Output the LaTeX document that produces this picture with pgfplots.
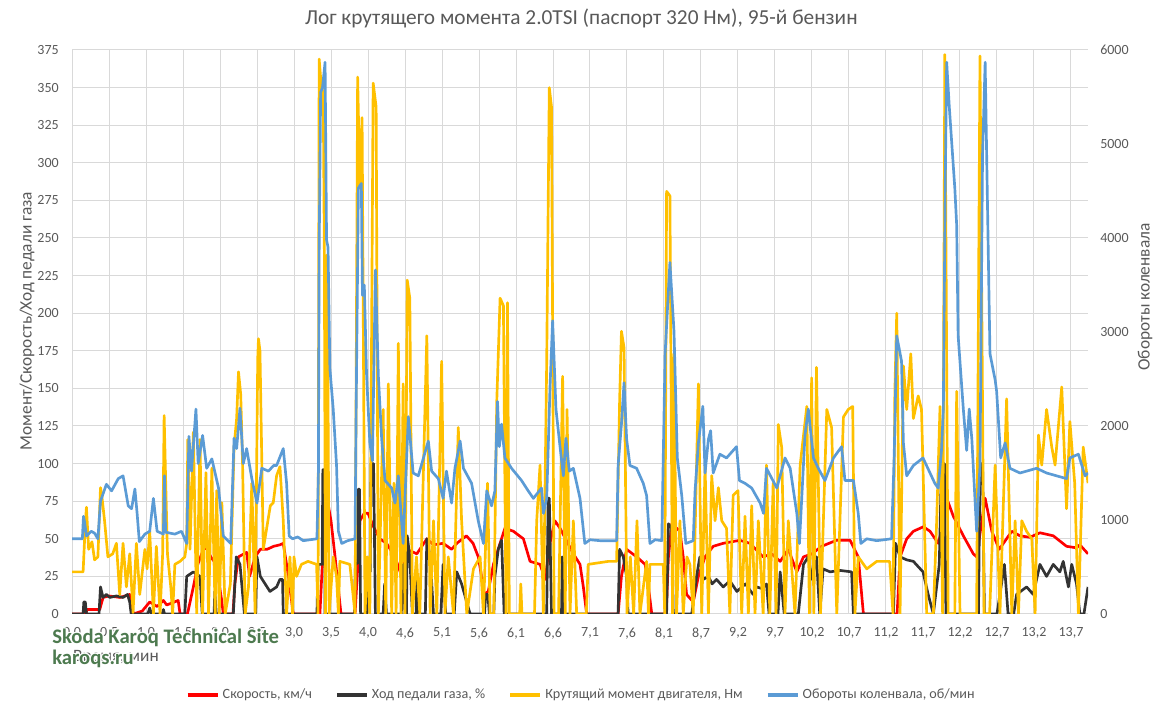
\documentclass[border=0pt]{standalone}
\usepackage{fontspec}
\setmainfont{Carlito}
\usepackage{pgfplots}
\pgfplotsset{compat=1.18}
\definecolor{txt}{HTML}{595959}
\definecolor{grd}{HTML}{D9D9D9}
\definecolor{cred}{HTML}{FF0000}
\definecolor{cblk}{HTML}{333333}
\definecolor{cyel}{HTML}{FFC000}
\definecolor{cblu}{HTML}{5B9BD5}
\definecolor{wm}{HTML}{4D7A4F}
\pgfplotsset{
  /pgf/number format/assume math mode=true,
  base/.style={
    at={(54pt,72pt)}, anchor=south west,
    width=762pt, height=423pt, scale only axis,
    xmin=0, xmax=27.46,
    major tick length=0pt,
    tick label style={font=\fontsize{10.5}{12}\selectfont, text=txt},
    axis line style={draw=none},
  },
  ser/.style={line width=2pt, line join=round, mark=none},
}
\newcommand\halo[3]{% pos, font, text
  \foreach \dx/\dy in {-1/0,1/0,0/-1,0/1,-0.7/-0.7,0.7/0.7,-0.7/0.7,0.7/-0.7}{
    \node[anchor=west, inner sep=0pt, text=white, font=#2] at ($(#1)+(\dx pt,\dy pt)$) {#3};}
  \node[anchor=west, inner sep=0pt, text=wm, font=#2] at (#1) {#3};}
\usetikzlibrary{calc}
\begin{document}
\begin{tikzpicture}
\path[use as bounding box] (0,0) rectangle (874.5pt,532.5pt);
\begin{axis}[base,
  ymin=0, ymax=375, ytick={0,25,...,375},
  xtick={0,...,27},
  xticklabels={{0,0},{0,5},{1,0},{1,5},{2,0},{2,5},{3,0},{3,5},{4,0},{4,6},{5,1},{5,6},{6,1},{6,6},{7,1},{7,6},{8,1},{8,7},{9,2},{9,7},{10,2},{10,7},{11,2},{11,7},{12,2},{12,7},{13,2},{13,7}},
  xmajorgrids, ymajorgrids,
  grid style={grd, line width=0.75pt},
  yticklabel style={anchor=east, inner sep=0pt, xshift=-9.75pt},
  xticklabel style={anchor=north, inner sep=0pt, yshift=-10pt},
]
% speed
\addplot[ser, cred] coordinates {
(0,0) (0.38,0) (0.40,3) (0.75,3) (0.84,11) (1.0,12) (1.3,11) (1.56,13) (1.66,0) (1.9,2) (2.1,8) (2.3,5) (2.47,9) (2.56,6) (2.87,9) (2.92,0) (3.12,0) (3.28,18) (3.4,33) (3.55,43) (3.65,44) (3.75,38) (3.9,33) (4.04,10) (4.09,0) (4.35,0) (4.4,20) (4.5,38) (4.72,41) (4.8,25) (4.95,38) (5.09,43) (5.27,43) (5.45,45) (5.62,46) (5.71,47) (5.85,25) (5.98,0) (6.7,0) (6.78,40) (6.88,79) (7.0,62) (7.11,38) (7.27,0) (7.65,0) (7.72,30) (7.78,62) (7.9,67) (8.0,67) (8.15,58) (8.32,50) (8.5,47) (8.73,38) (8.91,25) (9.05,43) (9.32,40) (9.59,50) (9.77,46) (10.03,47) (10.26,43) (10.4,47) (10.66,52) (10.84,47) (10.98,38) (11.07,25) (11.12,13) (11.25,15) (11.39,33) (11.57,47) (11.7,57) (11.93,55) (12.2,50) (12.38,35) (12.65,33) (12.79,23) (12.9,45) (13.05,62) (13.19,57) (13.55,40) (13.73,33) (13.82,18) (13.91,0) (14.76,0) (14.85,25) (14.99,43) (15.26,38) (15.49,33) (15.58,18) (15.67,0) (16.06,0) (16.12,38) (16.21,60) (16.43,55) (16.52,38) (16.61,13) (16.79,8) (16.93,25) (17.11,38) (17.33,45) (17.6,47) (18.05,49) (18.32,47) (18.68,38) (18.91,40) (19.14,35) (19.36,43) (19.59,28) (19.77,38) (20.0,40) (20.26,45) (20.66,49) (21.03,49) (21.25,38) (21.39,0) (22.3,0) (22.38,38) (22.56,50) (22.74,55) (23.01,58) (23.19,55) (23.41,47) (23.55,60) (23.64,77) (23.82,65) (24.09,52) (24.36,40) (24.45,38) (24.68,77) (24.86,55) (25.06,43) (25.4,55) (25.62,52) (25.89,51) (26.16,54) (26.52,52) (26.88,45) (27.15,44) (27.24,46) (27.46,40)
};
% pedal
\addplot[ser, cblk] coordinates {
(0,0) (0.30,0) (0.32,8) (0.36,8) (0.39,0) (0.73,0) (0.77,18) (0.84,11) (0.93,13) (1.02,11) (1.2,12) (1.38,11) (1.5,13) (1.56,8) (1.6,0) (2.05,0) (2.1,4) (2.15,0) (2.44,0) (2.47,3) (2.5,0) (3.05,0) (3.1,25) (3.28,28) (3.46,25) (3.52,0) (3.84,0) (3.86,15) (3.9,0) (4.36,0) (4.44,38) (4.54,33) (4.66,0) (4.96,0) (5.0,38) (5.09,25) (5.22,20) (5.35,15) (5.53,18) (5.62,23) (5.69,23) (5.71,0) (6.62,0) (6.65,33) (6.76,33) (6.78,96) (6.82,96) (6.84,0) (7.63,0) (7.66,33) (7.72,34) (7.74,83) (7.77,83) (7.8,0) (7.97,0) (8.0,28) (8.06,28) (8.08,100) (8.15,100) (8.2,0) (8.41,0) (8.45,20) (8.5,0) (8.9,0) (8.95,33) (9.0,0) (9.04,0) (9.06,52) (9.13,38) (9.2,0) (9.3,0) (9.32,23) (9.37,0) (9.55,0) (9.59,50) (9.68,38) (9.77,0) (9.97,0) (10.03,33) (10.1,0) (10.33,0) (10.4,28) (10.53,20) (10.76,0) (11.15,0) (11.18,13) (11.24,13) (11.28,0) (11.4,0) (11.43,25) (11.52,43) (11.61,49) (11.68,0) (12.83,0) (12.87,77) (12.9,77) (12.96,0) (13.23,0) (13.25,38) (13.3,0) (14.76,0) (14.8,43) (14.9,38) (14.99,25) (15.03,0) (16.07,0) (16.12,60) (16.21,57) (16.25,0) (16.75,0) (16.88,25) (16.97,38) (17.06,23) (17.2,25) (17.3,20) (17.42,23) (17.6,18) (17.78,22) (17.97,15) (18.2,20) (18.41,13) (18.5,18) (18.64,17) (18.77,20) (18.84,0) (19.08,0) (19.14,28) (19.25,0) (19.63,0) (19.77,33) (19.9,38) (20.0,23) (20.12,38) (20.21,0) (20.3,30) (20.49,28) (20.75,29) (21.07,28) (21.12,0) (22.2,0) (22.26,47) (22.38,38) (22.56,36) (22.74,35) (23.0,28) (23.14,13) (23.28,0) (23.44,33) (23.5,100) (23.58,100) (23.62,0) (24.5,0) (24.54,100) (24.61,100) (24.66,0) (25.0,0) (25.2,33) (25.3,0) (25.45,0) (25.53,13) (25.8,18) (25.98,13) (26.16,33) (26.34,25) (26.52,33) (26.7,28) (26.79,35) (26.93,18) (27.02,33) (27.15,20) (27.24,0) (27.35,0) (27.46,18)
};
% torque
\addplot[ser, cyel] coordinates {
(0,28) (0.3,28) (0.36,60) (0.39,71) (0.45,43) (0.54,48) (0.61,36) (0.7,38) (0.77,84) (0.8,80) (0.88,62) (0.97,38) (1.1,40) (1.2,47) (1.29,13) (1.38,47) (1.47,18) (1.56,40) (1.65,1) (1.74,47) (1.83,13) (1.97,43) (2.03,30) (2.1,55) (2.2,0) (2.28,45) (2.38,0) (2.45,40) (2.49,132) (2.53,90) (2.58,40) (2.67,18) (2.72,0) (2.78,33) (2.92,35) (3.05,38) (3.1,47) (3.13,116) (3.19,43) (3.28,121) (3.37,0) (3.46,116) (3.53,0) (3.62,94) (3.69,0) (3.78,97) (3.87,0) (3.91,82) (3.98,0) (4.05,74) (4.14,0) (4.28,20) (4.38,111) (4.45,130) (4.5,161) (4.56,146) (4.61,100) (4.68,0) (4.77,18) (4.86,87) (4.95,0) (5.02,170) (5.04,183) (5.08,175) (5.17,43) (5.36,72) (5.44,74) (5.53,92) (5.62,98) (5.71,62) (5.8,0) (5.89,38) (5.96,0) (6.0,38) (6.07,25) (6.2,33) (6.38,35) (6.61,33) (6.65,0) (6.68,369) (6.74,350) (6.79,347) (6.82,242) (6.85,0) (6.9,239) (6.95,0) (7.06,38) (7.15,25) (7.2,0) (7.24,35) (7.51,33) (7.65,0) (7.72,357) (7.78,283) (7.84,330) (7.92,0) (7.98,38) (8.05,0) (8.14,353) (8.22,337) (8.28,0) (8.41,136) (8.48,0) (8.55,153) (8.64,0) (8.7,87) (8.76,0) (8.82,180) (8.89,0) (8.95,153) (9.0,0) (9.06,222) (9.13,210) (9.2,0) (9.31,38) (9.4,0) (9.59,185) (9.68,0) (9.77,62) (9.86,0) (9.99,168) (10.08,0) (10.17,38) (10.31,0) (10.44,124) (10.53,62) (10.67,0) (10.85,30) (11.03,38) (11.12,0) (11.23,87) (11.3,0) (11.4,0) (11.48,141) (11.57,210) (11.66,205) (11.73,0) (11.77,207) (11.82,0) (12.1,0) (12.13,20) (12.16,0) (12.5,0) (12.56,62) (12.65,99) (12.74,0) (12.83,168) (12.9,350) (12.96,337) (13.03,0) (13.15,0) (13.26,158) (13.33,0) (13.38,136) (13.46,0) (13.55,62) (13.64,0) (13.9,0) (13.95,33) (14.5,35) (14.72,35) (14.8,141) (14.85,188) (14.92,177) (15.0,0) (15.09,38) (15.18,0) (15.27,62) (15.35,0) (15.53,35) (15.58,0) (15.62,33) (15.98,33) (16.02,0) (16.07,281) (16.16,278) (16.23,0) (16.27,173) (16.34,0) (16.43,62) (16.52,0) (16.62,38) (16.7,33) (16.79,0) (16.93,153) (17.02,0) (17.11,99) (17.2,0) (17.29,92) (17.38,62) (17.47,84) (17.56,62) (17.69,57) (17.78,0) (17.87,79) (18.0,82) (18.1,0) (18.19,65) (18.28,0) (18.37,72) (18.46,0) (18.55,62) (18.68,0) (18.77,99) (18.86,0) (18.95,87) (19.03,0) (19.09,126) (19.18,111) (19.27,0) (19.36,62) (19.54,0) (19.68,99) (19.86,138) (19.93,0) (19.99,157) (20.05,0) (20.12,164) (20.23,0) (20.4,136) (20.53,124) (20.67,0) (20.85,131) (20.98,136) (21.1,138) (21.16,0) (21.25,38) (21.48,30) (21.75,35) (22.1,35) (22.19,0) (22.24,148) (22.29,200) (22.38,0) (22.47,165) (22.56,136) (22.67,173) (22.74,130) (22.87,145) (22.96,136) (23.1,0) (23.28,0) (23.37,62) (23.46,138) (23.53,0) (23.59,372) (23.68,0) (23.86,0) (23.91,148) (24.0,0) (24.45,0) (24.54,371) (24.65,0) (24.8,0) (24.95,99) (25.08,0) (25.26,143) (25.4,0) (25.49,62) (25.58,0) (25.67,62) (25.8,55) (25.94,50) (26.03,0) (26.12,119) (26.21,99) (26.34,136) (26.48,111) (26.57,99) (26.75,151) (26.88,70) (26.97,128) (27.1,87) (27.2,0) (27.33,111) (27.46,87)
};
\end{axis}
\begin{axis}[base,
  ymin=0, ymax=6000, ytick={0,1000,...,6000},
  axis x line=none, axis y line*=right,
  yticklabel style={anchor=west, inner sep=0pt, xshift=9pt, /pgf/number format/set thousands separator={}},
  legend style={at={(0.502,-0.1436)}, anchor=center, draw=none, fill=none, legend columns=4, font=\fontsize{10.6}{12}\selectfont, text=txt, nodes={inner sep=2.5pt}, /tikz/every even column/.append style={column sep=15pt}},
  legend image code/.code={\draw[#1, line width=2.5pt] (0pt,0pt) -- (22.5pt,0pt);},
]
\addlegendimage{ser, cred}\addlegendentry{Скорость, км/ч}
\addlegendimage{ser, cblk}\addlegendentry{Ход педали газа, \%}
\addlegendimage{ser, cyel}\addlegendentry{Крутящий момент двигателя, Нм}
% rpm
\addplot[ser, cblu] coordinates {
(0,800) (0.28,800) (0.31,1040) (0.34,980) (0.39,830) (0.52,880) (0.61,860) (0.7,800) (0.77,1200) (0.93,1380) (1.07,1310) (1.25,1440) (1.38,1470) (1.52,1150) (1.61,1120) (1.7,1330) (1.76,1070) (1.82,770) (1.97,850) (2.1,880) (2.2,1230) (2.3,880) (2.47,850) (2.5,1470) (2.53,870) (2.78,850) (2.96,880) (3.1,750) (3.16,1890) (3.23,1520) (3.35,2180) (3.41,1600) (3.53,1900) (3.64,1550) (3.78,1650) (3.96,1340) (4.09,830) (4.29,750) (4.38,1870) (4.45,1760) (4.54,2190) (4.63,1600) (4.72,1760) (4.86,1440) (5.0,1180) (5.13,1550) (5.31,1520) (5.45,1580) (5.53,1580) (5.71,1760) (5.8,1390) (5.87,830) (5.96,800) (6.1,820) (6.25,780) (6.62,800) (6.66,1500) (6.68,3870) (6.72,5550) (6.77,5600) (6.84,5870) (6.88,3980) (6.92,3900) (6.97,2610) (7.06,2180) (7.15,1580) (7.2,880) (7.29,750) (7.45,780) (7.65,800) (7.68,2180) (7.74,4530) (7.82,4580) (7.85,3390) (7.9,3500) (7.96,2560) (8.05,1820) (8.12,1630) (8.2,3660) (8.28,2530) (8.37,1860) (8.46,1420) (8.64,1340) (8.73,1180) (8.82,1470) (8.95,750) (9.09,2100) (9.22,1500) (9.36,1470) (9.63,1840) (9.72,1520) (9.9,1440) (10.03,1230) (10.12,1520) (10.26,1180) (10.35,1550) (10.49,1840) (10.58,1550) (10.8,1390) (10.98,990) (11.12,750) (11.21,1310) (11.34,1150) (11.43,1310) (11.5,2260) (11.55,1780) (11.61,2020) (11.7,1660) (11.88,1550) (12.15,1420) (12.33,1310) (12.47,1230) (12.69,1340) (12.74,1070) (12.83,1230) (12.92,2420) (12.99,3120) (13.08,2180) (13.19,1780) (13.28,1470) (13.35,1870) (13.44,1520) (13.55,1550) (13.73,1230) (13.86,750) (14.0,790) (14.27,780) (14.72,780) (14.76,1580) (14.85,2020) (14.92,2460) (14.99,1860) (15.08,1580) (15.26,1550) (15.44,1390) (15.53,1260) (15.62,750) (15.76,790) (15.94,780) (16.03,2770) (16.16,3740) (16.27,3010) (16.36,1660) (16.48,1260) (16.59,750) (16.79,780) (16.84,1310) (16.93,1820) (17.05,2210) (17.11,1500) (17.2,1860) (17.26,1950) (17.33,1500) (17.51,1700) (17.69,1660) (17.96,1780) (18.04,1420) (18.19,1390) (18.37,1340) (18.6,1180) (18.69,1070) (18.77,1550) (19.05,1340) (19.27,1660) (19.41,1550) (19.59,1070) (19.66,750) (19.81,1900) (19.9,2180) (20.04,1660) (20.17,1550) (20.35,1420) (20.58,1660) (20.8,1780) (20.89,1420) (21.12,1420) (21.25,1070) (21.32,750) (21.48,800) (21.75,780) (22.15,800) (22.22,1660) (22.29,2960) (22.42,2690) (22.47,1820) (22.56,1470) (22.74,1580) (23.0,1660) (23.19,1500) (23.32,1390) (23.41,1340) (23.5,1740) (23.55,2180) (23.6,4530) (23.64,5870) (23.71,5400) (23.86,4530) (23.91,4140) (23.95,2960) (24.09,2180) (24.18,1740) (24.25,2180) (24.32,1860) (24.45,880) (24.54,1580) (24.61,4900) (24.68,5870) (24.72,4900) (24.81,2770) (24.95,2490) (24.99,2370) (25.1,1660) (25.22,1820) (25.35,1550) (25.62,1500) (26.07,1550) (26.34,1500) (26.88,1440) (26.97,1660) (27.2,1700) (27.38,1470) (27.46,1500)
};
\addlegendentry{Обороты коленвала, об/мин}
\end{axis}
\node[font=\fontsize{16}{19}\selectfont, text=txt] at (436pt,519pt) {Лог крутящего момента 2.0TSI (паспорт 320 Нм), 95-й бензин};
\node[rotate=90, font=\fontsize{13}{15}\selectfont, text=txt] at (20.25pt,291.75pt) {Момент/Скорость/Ход педали газа};
\node[rotate=90, font=\fontsize{13}{15}\selectfont, text=txt] at (858.75pt,309.75pt) {Обороты коленвала};
\node[font=\fontsize{13}{15}\selectfont, text=txt] at (87pt,39.75pt) {Время, мин};
\halo{39pt,54pt}{\bfseries\fontsize{15.5}{17}\selectfont}{Skoda Karoq Technical Site}
\halo{39pt,38.25pt}{\bfseries\fontsize{15.5}{17}\selectfont}{karoqs.ru}
\end{tikzpicture}
\end{document}
